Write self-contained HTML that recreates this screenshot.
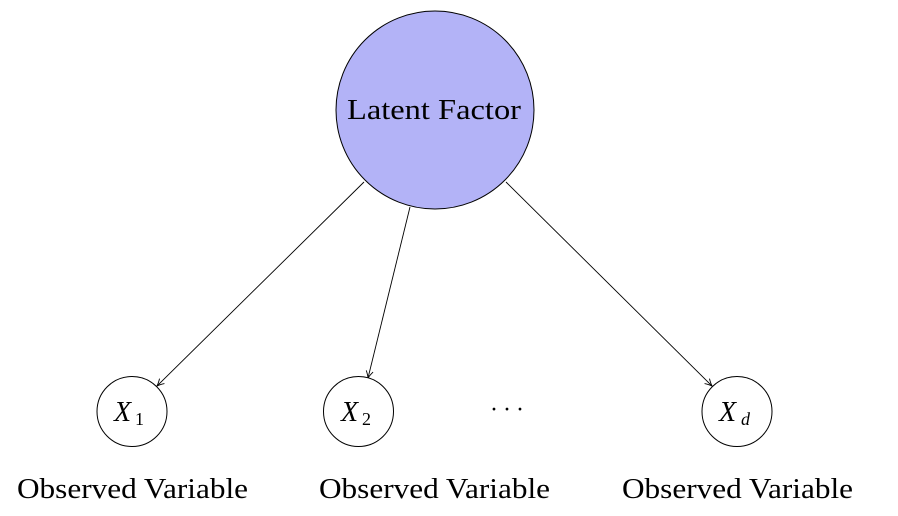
<!DOCTYPE html>
<html><head><style>
html,body{margin:0;padding:0;background:#fff;}
svg{display:block;}
text{font-family:"Liberation Serif",serif;fill:#000;}
</style></head><body>
<svg width="898" height="516" viewBox="0 0 898 516" xmlns="http://www.w3.org/2000/svg">
<defs>
<marker id="a" markerWidth="10" markerHeight="10" refX="8" refY="5" orient="auto" markerUnits="userSpaceOnUse">
<path d="M1,1.5 Q5,4 8,5 Q5,6 1,8.5" fill="none" stroke="#000" stroke-width="0.9"/>
</marker>
</defs>
<circle cx="435" cy="110" r="99" fill="#b3b3f7" stroke="#000" stroke-width="1"/>
<text x="347" y="119" font-size="28" textLength="174" lengthAdjust="spacingAndGlyphs">Latent Factor</text>
<line x1="364" y1="182" x2="157" y2="386" stroke="#000" stroke-width="0.9" marker-end="url(#a)"/>
<line x1="410" y1="207" x2="368" y2="378" stroke="#000" stroke-width="0.9" marker-end="url(#a)"/>
<line x1="506" y1="182" x2="712" y2="386" stroke="#000" stroke-width="0.9" marker-end="url(#a)"/>
<circle cx="132" cy="411.5" r="35" fill="#fff" stroke="#000" stroke-width="1"/>
<circle cx="358.5" cy="411.5" r="35" fill="#fff" stroke="#000" stroke-width="1"/>
<circle cx="737" cy="411.5" r="35" fill="#fff" stroke="#000" stroke-width="1"/>
<text x="114" y="421" font-size="28" font-style="italic">X</text><text x="135" y="425" font-size="18">1</text>
<text x="341" y="421" font-size="28" font-style="italic">X</text><text x="362" y="425" font-size="18">2</text>
<text x="719" y="421" font-size="28" font-style="italic">X</text><text x="741" y="425" font-size="18" font-style="italic">d</text>
<text x="490" y="417" font-size="24" textLength="34" lengthAdjust="spacing">···</text>
<text x="17" y="498" font-size="28" textLength="231" lengthAdjust="spacingAndGlyphs">Observed Variable</text>
<text x="319" y="498" font-size="28" textLength="231" lengthAdjust="spacingAndGlyphs">Observed Variable</text>
<text x="622" y="498" font-size="28" textLength="231" lengthAdjust="spacingAndGlyphs">Observed Variable</text>
</svg>
</body></html>
